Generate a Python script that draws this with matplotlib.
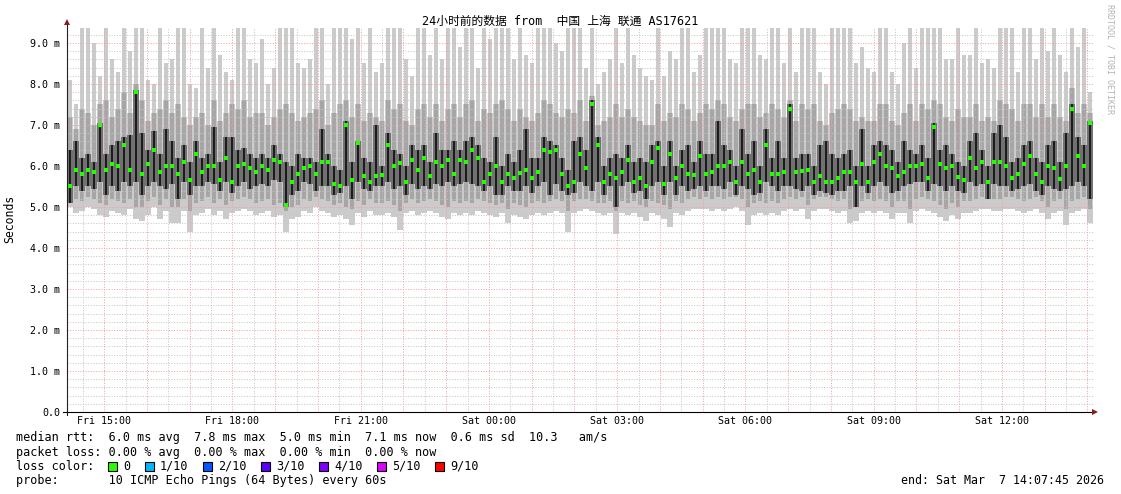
import numpy as np
import matplotlib
matplotlib.use('Agg')
import matplotlib.pyplot as plt
from matplotlib.lines import Line2D
from matplotlib.patches import Rectangle

W, H = 1121, 494

# median rtt per time step (ms)
med = [5.5, 5.9, 5.8, 5.9, 5.85, 7.0, 5.9, 6.05, 6.0, 6.5, 5.9, 7.8, 5.8, 6.05, 6.4, 5.85, 6.0, 6.0, 5.8, 6.1, 5.65, 6.3,
       5.85, 6.0, 6.0, 5.65, 6.2, 5.6, 6.0, 6.05, 5.95, 5.85, 6.0, 5.9, 6.15, 6.1, 5.05, 5.6, 5.8, 5.95, 6.0, 5.8, 6.1,
       6.1, 5.55, 5.52, 7.0, 5.65, 6.55, 5.75, 5.6, 5.75, 5.78, 6.5, 6.0, 6.08, 5.6, 6.15, 5.9, 6.2, 5.75, 6.1, 6.0, 6.15,
       5.8, 6.15, 6.1, 6.4, 6.2, 5.6, 5.8, 6.0, 5.6, 5.8, 5.7, 5.82, 5.9, 5.7, 5.85, 6.4, 6.35, 6.4, 5.8, 5.5, 5.6, 6.3,
       5.95, 7.5, 6.5, 5.6, 5.8, 5.7, 5.85, 6.15, 5.62, 5.7, 5.5, 6.1, 6.45, 5.55, 6.3, 5.7, 6.0, 5.8, 5.78, 6.25, 5.8,
       5.85, 6.0, 6.0, 6.1, 5.6, 6.1, 5.8, 5.9, 5.6, 6.5, 5.8, 5.8, 5.85, 7.4, 5.85, 5.88, 5.9, 5.6, 5.75, 5.6, 5.6, 5.7,
       5.85, 5.85, 5.6, 6.05, 5.6, 6.1, 6.3, 6.0, 5.95, 5.75, 5.85, 6.0, 6.0, 6.05, 5.7, 6.95, 6.05, 5.95, 6.0, 5.72, 5.65,
       6.2, 5.95, 6.1, 5.6, 6.1, 6.1, 6.0, 5.7, 5.8, 6.05, 6.25, 5.8, 5.6, 6.0, 5.95, 5.68, 6.0, 7.4, 6.25, 6.0, 7.05]

# slowest ping (top of light smoke)
hi = [8.1, 7.5, 9.4, 9.4, 9.0, 8.2, 9.4, 8.6, 8.3, 9.4, 8.8, 9.4, 9.4, 8.1, 8.0, 9.4, 8.5, 8.6, 9.4, 9.4, 8.0, 7.9,
      9.4, 8.4, 9.4, 8.7, 8.3, 8.1, 9.4, 9.4, 8.6, 8.5, 9.1, 8.0, 8.4, 9.4, 9.4, 9.4, 8.5, 8.4, 8.6, 9.4, 9.4,
      8.0, 9.4, 9.4, 9.4, 9.1, 9.4, 8.5, 9.4, 8.3, 8.5, 9.4, 9.4, 9.4, 8.6, 8.2, 9.4, 9.4, 8.7, 9.4, 8.6, 9.4,
      9.4, 8.9, 9.4, 9.4, 8.4, 9.4, 9.1, 9.4, 9.4, 9.4, 8.6, 9.4, 8.7, 8.5, 9.4, 9.4, 9.4, 9.0, 8.8, 9.4, 9.4, 9.4,
      8.4, 9.4, 8.0, 8.3, 8.6, 9.4, 8.5, 9.4, 8.7, 8.4, 8.2, 8.1, 9.4, 8.2, 8.8, 8.6, 9.4, 9.4, 8.3, 8.7, 9.4,
      9.4, 9.4, 9.4, 8.6, 8.5, 9.4, 9.4, 9.4, 8.7, 8.6, 9.4, 9.4, 8.5, 9.4, 8.3, 9.4, 9.4, 9.4, 8.3, 8.0, 9.4, 9.4,
      9.4, 9.4, 8.5, 8.9, 8.4, 8.3, 9.4, 9.4, 8.3, 8.0, 9.0, 9.4, 8.4, 9.4, 9.4, 9.4, 9.4, 8.6, 8.6, 9.4, 8.7,
      8.7, 9.4, 8.5, 8.6, 8.4, 9.4, 9.4, 9.4, 8.3, 9.4, 9.4, 8.6, 9.4, 8.8, 9.4, 8.7, 8.3, 9.4, 8.9, 9.4, 7.8]

# fastest ping (bottom of light smoke)
lo = [5.0, 4.85, 4.9, 5.0, 4.95, 4.8, 4.75, 4.9, 4.85, 4.8, 4.95, 4.7, 4.65, 4.8, 5.0, 4.7, 4.9, 4.6, 4.6, 4.9, 4.4, 4.8,
      4.85, 4.95, 4.8, 4.9, 4.7, 4.85, 4.9, 4.95, 4.9, 4.8, 4.85, 4.9, 4.75, 4.8, 4.4, 4.7, 4.75, 4.9, 4.85, 5.0, 4.9,
      4.85, 4.75, 4.8, 4.7, 4.55, 4.85, 4.75, 4.9, 4.8, 4.8, 4.85, 4.75, 4.45, 4.85, 4.9, 4.8, 4.85, 4.9, 4.85, 4.75, 4.7,
      4.85, 4.8, 4.85, 4.8, 4.9, 4.85, 4.8, 4.75, 4.85, 4.6, 4.8, 4.75, 4.7, 4.8, 4.85, 4.8, 4.85, 4.9, 4.85, 4.4, 4.85, 4.9,
      4.95, 4.9, 4.85, 4.8, 4.85, 4.35, 4.85, 4.8, 4.85, 4.75, 4.65, 4.85, 4.8, 4.7, 4.5, 4.85, 4.8, 4.9, 4.95, 4.95, 4.95,
      4.9, 4.95, 4.9, 4.95, 5.0, 4.9, 4.55, 4.8, 4.85, 4.8, 4.85, 4.8, 4.9, 4.95, 4.9, 4.95, 4.7, 4.9, 4.95, 4.95, 4.9, 4.85,
      4.9, 4.6, 4.65, 4.85, 4.9, 4.85, 4.9, 4.85, 4.7, 4.85, 4.85, 4.6, 4.9, 4.95, 4.9, 4.85, 4.75, 4.65, 4.8, 4.7, 4.85,
      4.85, 4.9, 4.95, 4.95, 4.9, 4.9, 4.95, 4.95, 4.9, 4.85, 4.9, 4.95, 4.85, 4.7, 4.85, 4.9, 4.55, 4.85, 4.9, 4.95, 4.6]

# middle smoke band
mhi = [7.2, 6.9, 7.4, 7.3, 7.0, 7.5, 7.6, 7.2, 7.4, 7.8, 7.3, 8.0, 7.6, 7.1, 7.3, 7.4, 7.6, 7.3, 7.5, 7.2, 7.0, 7.2,
       7.3, 7.0, 7.6, 7.1, 7.3, 7.5, 7.4, 7.6, 7.2, 7.3, 7.3, 7.0, 7.2, 7.4, 7.5, 7.3, 7.1, 7.2, 7.3, 7.4, 7.6,
       7.0, 7.3, 7.5, 7.6, 7.2, 7.5, 7.1, 7.3, 7.2, 7.1, 7.6, 7.4, 7.5, 7.1, 7.0, 7.4, 7.5, 7.2, 7.5, 7.1, 7.4,
       7.5, 7.2, 7.5, 7.6, 7.1, 7.4, 7.3, 7.5, 7.6, 7.4, 7.1, 7.4, 7.2, 7.1, 7.3, 7.6, 7.5, 7.3, 7.2, 7.4, 7.3, 7.6,
       7.1, 7.7, 7.0, 7.1, 7.2, 7.5, 7.2, 7.4, 7.2, 7.1, 7.0, 7.0, 7.5, 7.1, 7.3, 7.2, 7.5, 7.4, 7.1, 7.3, 7.5,
       7.4, 7.6, 7.5, 7.2, 7.1, 7.4, 7.5, 7.5, 7.2, 7.3, 7.5, 7.4, 7.2, 7.6, 7.1, 7.5, 7.4, 7.5, 7.1, 7.0, 7.3, 7.4,
       7.5, 7.4, 7.1, 7.2, 7.1, 7.1, 7.5, 7.5, 7.1, 7.0, 7.3, 7.5, 7.1, 7.5, 7.4, 7.6, 7.5, 7.2, 7.1, 7.4, 7.2,
       7.2, 7.5, 7.1, 7.2, 7.1, 7.6, 7.5, 7.4, 7.1, 7.5, 7.5, 7.2, 7.5, 7.2, 7.5, 7.2, 7.1, 7.9, 7.3, 7.5, 7.3]
mlo = [5.1, 5.2, 5.15, 5.25, 5.2, 5.1, 5.05, 5.2, 5.15, 5.1, 5.2, 5.0, 5.0, 5.15, 5.25, 5.05, 5.2, 5.0, 5.0, 5.2, 4.9, 5.1,
       5.15, 5.25, 5.1, 5.2, 5.05, 5.15, 5.2, 5.25, 5.2, 5.1, 5.15, 5.2, 5.05, 5.1, 4.9, 5.0, 5.05, 5.2, 5.15, 5.25, 5.2,
       5.15, 5.05, 5.1, 5.0, 4.95, 5.15, 5.05, 5.2, 5.1, 5.1, 5.15, 5.05, 4.9, 5.1, 5.2, 5.1, 5.15, 5.2, 5.15, 5.05, 5.0,
       5.15, 5.1, 5.15, 5.1, 5.2, 5.15, 5.1, 5.05, 5.1, 4.95, 5.1, 5.05, 5.0, 5.1, 5.15, 5.1, 5.15, 5.2, 5.15, 4.9, 5.15, 5.2,
       5.2, 5.15, 5.1, 5.1, 5.15, 4.9, 5.15, 5.1, 5.15, 5.05, 5.0, 5.15, 5.1, 5.05, 4.95, 5.15, 5.1, 5.2, 5.25, 5.2, 5.25,
       5.2, 5.25, 5.2, 5.25, 5.25, 5.2, 5.0, 5.1, 5.15, 5.1, 5.15, 5.1, 5.2, 5.25, 5.2, 5.25, 5.05, 5.2, 5.25, 5.25, 5.2, 5.15,
       5.2, 4.95, 5.0, 5.15, 5.2, 5.15, 5.2, 5.15, 5.0, 5.15, 5.15, 4.95, 5.2, 5.25, 5.2, 5.15, 5.05, 4.95, 5.1, 5.0, 5.15,
       5.15, 5.2, 5.25, 5.25, 5.2, 5.2, 5.25, 5.25, 5.2, 5.15, 5.2, 5.25, 5.15, 5.0, 5.15, 5.2, 4.95, 5.15, 5.2, 5.25, 4.95]

# dark core around the median
chi = [6.4, 6.6, 6.2, 6.3, 6.1, 7.05, 6.3, 6.5, 6.6, 6.7, 6.75, 7.85, 6.8, 6.4, 6.85, 6.3, 6.9, 6.6, 6.2, 6.5, 6.1, 6.6,
       6.2, 6.3, 6.95, 6.1, 6.7, 6.7, 6.4, 6.45, 6.3, 6.2, 6.3, 6.2, 6.5, 6.3, 6.1, 6.0, 6.3, 6.2, 6.2, 6.1, 6.9,
       6.3, 6.0, 5.9, 7.1, 6.1, 6.6, 6.2, 6.1, 7.0, 6.0, 6.8, 6.4, 6.3, 6.0, 6.5, 6.4, 6.5, 6.1, 6.8, 6.4, 6.4,
       6.6, 6.4, 6.6, 6.7, 6.5, 6.2, 6.1, 6.7, 6.0, 6.3, 6.1, 6.4, 6.9, 6.2, 6.2, 6.7, 6.6, 6.5, 6.2, 5.9, 6.6, 6.7,
       6.4, 7.6, 6.7, 6.0, 6.2, 6.3, 6.2, 6.5, 6.1, 6.2, 6.1, 6.5, 6.6, 6.0, 6.6, 6.0, 6.4, 6.5, 6.1, 6.6, 6.3,
       6.3, 7.1, 6.5, 6.4, 6.0, 6.9, 6.3, 6.6, 6.0, 6.9, 6.2, 6.6, 6.2, 7.5, 6.2, 6.3, 6.3, 6.0, 6.5, 6.6, 6.3, 6.2,
       6.3, 6.4, 6.0, 6.9, 6.0, 6.5, 6.6, 6.5, 6.4, 6.1, 6.6, 6.4, 6.3, 6.5, 6.2, 7.05, 6.4, 6.5, 6.3, 6.1, 6.0,
       6.6, 6.8, 6.4, 6.0, 6.8, 7.0, 6.7, 6.1, 6.2, 6.5, 6.6, 6.2, 6.1, 6.5, 6.6, 6.1, 6.8, 7.5, 6.7, 6.5, 7.1]
clo = [5.1, 5.5, 5.4, 5.5, 5.45, 5.6, 5.3, 5.5, 5.4, 5.6, 5.5, 5.6, 5.3, 5.5, 5.6, 5.5, 5.45, 5.55, 5.2, 5.6, 5.3, 5.5,
       5.5, 5.6, 5.55, 5.4, 5.6, 5.35, 5.5, 5.6, 5.45, 5.5, 5.55, 5.5, 5.65, 5.6, 5.0, 5.3, 5.4, 5.6, 5.55, 5.4, 5.5,
       5.5, 5.3, 5.35, 5.5, 5.2, 5.6, 5.45, 5.4, 5.5, 5.5, 5.6, 5.45, 5.5, 5.3, 5.55, 5.45, 5.5, 5.45, 5.55, 5.5, 5.6,
       5.5, 5.55, 5.6, 5.55, 5.5, 5.4, 5.5, 5.3, 5.3, 5.5, 5.4, 5.4, 5.5, 5.35, 5.5, 5.6, 5.3, 5.55, 5.4, 5.3, 5.35, 5.6,
       5.5, 5.4, 5.6, 5.3, 5.5, 5.0, 5.5, 5.6, 5.35, 5.4, 5.2, 5.5, 5.6, 5.3, 5.6, 5.3, 5.5, 5.4, 5.45, 5.5, 5.4,
       5.5, 5.5, 5.45, 5.6, 5.3, 5.5, 5.45, 5.3, 5.35, 5.6, 5.5, 5.4, 5.5, 5.5, 5.45, 5.4, 5.5, 5.3, 5.4, 5.35, 5.3, 5.4,
       5.4, 5.5, 5.0, 5.5, 5.35, 5.5, 5.6, 5.5, 5.35, 5.4, 5.5, 5.55, 5.6, 5.6, 5.4, 5.55, 5.5, 5.4, 5.5, 5.4, 5.35,
       5.6, 5.5, 5.55, 5.2, 5.55, 5.5, 5.5, 5.4, 5.45, 5.5, 5.55, 5.4, 5.3, 5.5, 5.45, 5.4, 5.45, 5.5, 5.6, 5.5, 5.2]

x_ticks = [15, 18, 21, 24, 27, 30, 33, 36]
x_labels = ['Fri 15:00', 'Fri 18:00', 'Fri 21:00', 'Sat 00:00', 'Sat 03:00', 'Sat 06:00', 'Sat 09:00', 'Sat 12:00']
y_ticks = [0, 1, 2, 3, 4, 5, 6, 7, 8, 9]
y_labels = ['0.0'] + ['%d.0 m' % v for v in y_ticks[1:]]

loss_labels = ['0', '1/10', '2/10', '3/10', '4/10', '5/10', '9/10']
loss_colors = ['#26ff00', '#00b8ff', '#0059ff', '#5e00ff', '#7e00ff', '#dd00ff', '#ff0000']

title = '24小时前的数据 from  中国 上海 联通 AS17621'
stats_rtt = 'median rtt:  6.0 ms avg  7.8 ms max  5.0 ms min  7.1 ms now  0.6 ms sd  10.3   am/s'
stats_loss = 'packet loss: 0.00 % avg  0.00 % max  0.00 % min  0.00 % now'
probe = 'probe:       10 ICMP Echo Pings (64 Bytes) every 60s'
end_txt = 'end: Sat Mar  7 14:07:45 2026'

MONO = 'DejaVu Sans Mono'


def fx(x):
    return x / W


def fy(y):
    return 1 - y / H


def ext(a):
    return np.append(a, a[-1])


med, hi, lo = np.array(med), np.array(hi), np.array(lo)
mhi, mlo, chi, clo = np.array(mhi), np.array(mlo), np.array(chi), np.array(clo)

# time axis in hours counted from Friday 00:00
start = 14 + 7 / 60 + 45 / 3600
n = len(med)
step = 24.0 / n
edges = start + np.arange(n + 1) * step
centers = edges[:-1] + step / 2

fig = plt.figure(figsize=(W / 100, H / 100), dpi=100)
fig.patch.set_facecolor('white')
ax = fig.add_axes([fx(67), fy(412), 1026 / W, 384 / H])
ax.set_xlim(start, start + 24)
ax.set_ylim(0, 384 / 41)
for s in ax.spines.values():
    s.set_visible(False)

# smoke: light outer range, then middle band, dark core and black streaks
ax.fill_between(edges, ext(lo), ext(mhi), step='post', color='#cbcbcb', lw=0, antialiased=False, zorder=1)
ax.bar(edges[:-1] + step * 0.2, hi - lo, bottom=lo, width=step * 0.6, align='edge',
       color='#cbcbcb', lw=0, zorder=1)
ax.bar(edges[:-1] + step * 0.1, mhi - mlo, bottom=mlo, width=step * 0.75, align='edge',
       color='#a6a6a6', lw=0, zorder=2)

# faint dotted grid
dot = (0, (1, 1.6))
for v in np.arange(0.2, 9.4, 0.2):
    major = abs(v - round(v)) < 1e-6
    ax.axhline(v, color='#f2a0a0' if major else '#c6c6c6', lw=0.72, ls=dot, zorder=3)
for t in np.arange(14.5, 38.2, 0.5):
    major = abs(t - round(t)) < 1e-6
    ax.axvline(t, color='#f2a0a0' if major else '#c6c6c6', lw=0.72, ls=dot, zorder=3)

ax.bar(centers, chi - clo, bottom=clo, width=step * 0.85, color='#717171', lw=0, zorder=4)
ax.bar(centers, chi - clo, bottom=clo, width=step * 0.33, color='#1c1c1c', lw=0, zorder=5)

# median
ax.plot(centers, med, ls='none', marker='s', ms=2.8, mew=0, color=loss_colors[0], zorder=6)

ax.set_xticks(x_ticks)
ax.set_xticklabels(x_labels, family=MONO, fontsize=7.2)
ax.set_yticks(y_ticks)
ax.set_yticklabels(y_labels, family=MONO, fontsize=7.2)
ax.tick_params(axis='x', length=0, pad=3)
ax.tick_params(axis='y', length=0, pad=5)

# axes with arrows
fig.add_artist(Line2D([fx(67), fx(67)], [fy(415), fy(24)], color='#202020', lw=0.8))
fig.add_artist(Line2D([fx(63), fx(1093)], [fy(412), fy(412)], color='black', lw=0.8))
fig.add_artist(Line2D([fx(67)], [fy(22)], marker='^', ms=5, mew=0, color='#8b1a1a'))
fig.add_artist(Line2D([fx(1095)], [fy(412)], marker='>', ms=5, mew=0, color='#8b1a1a'))

fig.text(fx(560), fy(21), title, ha='center', va='center', fontsize=8.5,
         family=[MONO, 'Noto Sans CJK SC'])
fig.text(fx(10), fy(219), 'Seconds', rotation=90, ha='center', va='center', family=MONO, fontsize=8.3)
fig.text(fx(1110), fy(4), 'RRDTOOL / TOBI OETIKER', rotation=270, ha='center', va='top',
         family=MONO, fontsize=6, color='#b4b4b4')

# legend block
fs = 8.45
fig.text(fx(16), fy(437), stats_rtt, ha='left', va='center', family=MONO, fontsize=fs)
fig.text(fx(16), fy(452), stats_loss, ha='left', va='center', family=MONO, fontsize=fs)
fig.text(fx(16), fy(466), 'loss color:', ha='left', va='center', family=MONO, fontsize=fs)
box_x = [108, 145, 203, 261, 319, 377, 435]
for bx, lab, col in zip(box_x, loss_labels, loss_colors):
    fig.add_artist(Rectangle((fx(bx), fy(471)), 9 / W, 9 / H, facecolor=col, edgecolor='black', lw=0.8))
    fig.text(fx(bx + 15), fy(466), lab, ha='left', va='center', family=MONO, fontsize=fs)
fig.text(fx(16), fy(480), probe, ha='left', va='center', family=MONO, fontsize=fs)
fig.text(fx(1104), fy(480), end_txt, ha='right', va='center', family=MONO, fontsize=8.35)

fig.savefig('out.png', dpi=100)
